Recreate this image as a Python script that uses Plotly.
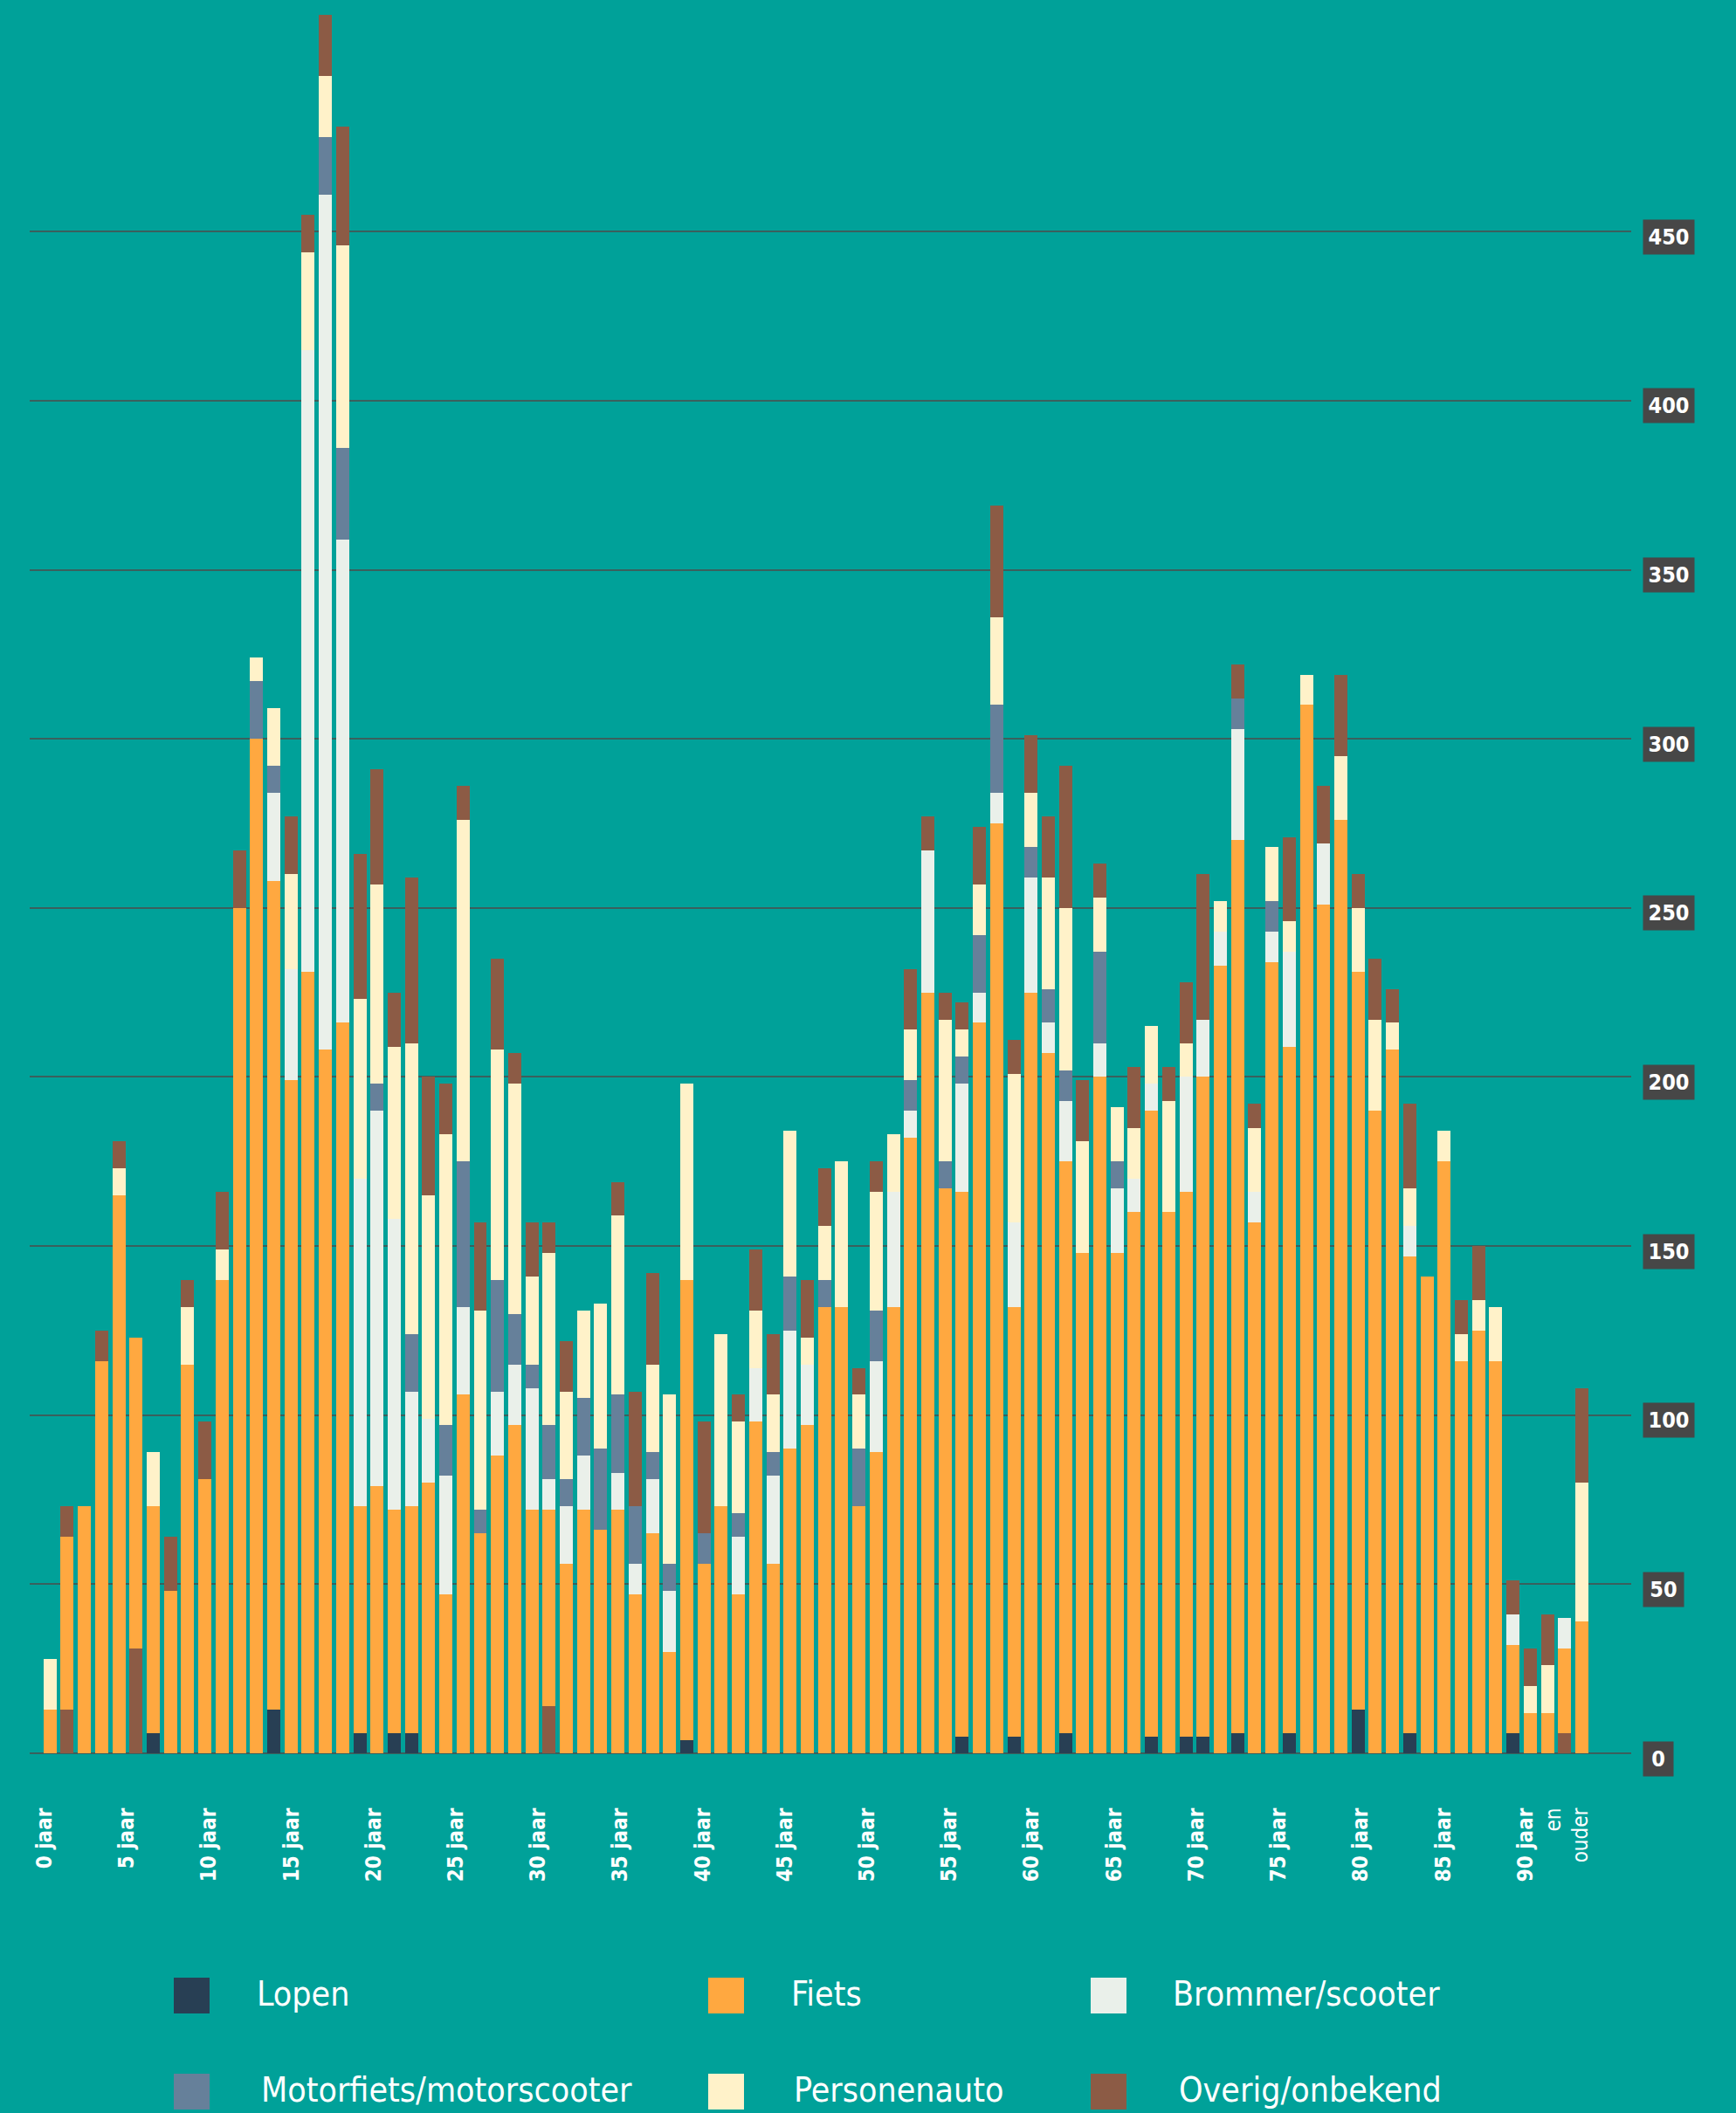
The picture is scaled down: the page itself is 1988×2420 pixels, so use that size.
import plotly.graph_objects as go

# ---------------- data ----------------
ages = list(range(90))

lopen = [0,0,0,0,0,0,6,0,0,0, 0,0,0,13,0,0,0,0,6,0,
         6,6,0,0,0,0,0,0,0,0, 0,0,0,0,0,0,0,4,0,0,
         0,0,0,0,0,0,0,0,0,0, 0,0,0,5,0,0,5,0,0,6,
         0,0,0,0,5,0,5,5,0,6, 0,0,6,0,0,0,13,0,0,6,
         0,0,0,0,0,6,0,0,0,0]
overig_onder = [0,13,0,0,0,31,0,0,0,0, 0,0,0,0,0,0,0,0,0,0,
                0,0,0,0,0,0,0,0,0,14, 0,0,0,0,0,0,0,0,0,0,
                0,0,0,0,0,0,0,0,0,0, 0,0,0,0,0,0,0,0,0,0,
                0,0,0,0,0,0,0,0,0,0, 0,0,0,0,0,0,0,0,0,0,
                0,0,0,0,0,0,0,0,6,0]
fiets = [13,51,73,116,165,92,67,48,115,81, 140,250,300,245,199,231,208,216,67,79,
         66,67,80,47,106,65,88,97,72,58, 56,72,66,72,47,65,30,136,56,73,
         47,98,56,90,97,132,132,73,89,132, 182,225,167,161,216,275,127,225,207,169,
         148,200,148,160,185,160,161,195,233,264, 157,234,203,310,251,276,218,190,208,141,
         141,175,116,125,116,26,12,12,25,39]
brommer = [0,0,0,0,0,0,0,0,0,0, 0,0,0,26,33,184,253,143,97,111,
           86,34,19,35,26,0,19,18,36,9, 17,16,0,11,9,16,18,0,0,0,
           17,16,26,35,18,0,0,0,27,34, 8,42,0,32,9,9,25,34,9,18,
           0,10,19,10,8,0,34,17,10,33, 9,9,28,0,18,0,0,0,0,9,
           0,0,0,0,0,9,0,0,9,0]
motorfiets = [0,0,0,0,0,0,0,0,0,0, 0,0,17,8,0,0,17,27,0,8,
              0,17,0,15,43,7,33,15,7,16, 8,17,24,23,17,8,8,0,9,0,
              7,0,7,16,0,8,0,17,15,0, 9,0,8,8,17,26,0,9,10,9,
              0,27,8,0,0,0,0,0,0,9, 0,9,0,0,0,0,0,0,0,0,
              0,0,0,0,0,0,0,0,0,0]
personenauto = [15,0,0,0,8,0,16,0,17,0, 9,0,7,17,28,29,18,60,53,59,
                51,86,66,86,101,59,68,68,26,51, 26,26,43,53,0,26,50,58,0,51,
                27,17,17,43,8,16,43,16,35,17, 15,0,42,8,15,26,44,16,33,48,
                33,16,16,15,17,33,10,0,9,0, 19,16,9,9,0,19,19,27,8,11,
                0,9,8,9,16,0,8,14,0,41]
overig = [0,9,0,9,8,0,0,16,8,17, 17,17,0,0,17,11,18,35,43,34,
          16,49,35,15,10,26,27,9,16,9, 15,0,0,10,34,27,0,0,33,0,
          8,18,18,0,17,17,0,8,9,0, 18,10,8,8,17,33,10,17,18,42,
          18,10,0,18,0,10,18,43,0,10, 7,0,25,0,17,24,10,18,10,25,
          0,0,10,16,0,10,11,15,0,28]

label_ages = list(range(0, 91, 5))
tick_texts = ["<b>%d jaar</b>" % a for a in label_ages] + ["en<br>ouder"]
y_ticks = list(range(0, 451, 50))

series = [
    ("Overig/onbekend", overig_onder, "#8C5B45", False),
    ("Lopen", lopen, "#283F54", True),
    ("Fiets", fiets, "#FFA840", True),
    ("Brommer/scooter", brommer, "#EAF0EA", True),
    ("Motorfiets/motorscooter", motorfiets, "#66809A", True),
    ("Personenauto", personenauto, "#FFF2C9", True),
    ("Overig/onbekend", overig, "#8C5B45", True),
]
legend_order = ["Lopen", "Fiets", "Brommer/scooter",
                "Motorfiets/motorscooter", "Personenauto", "Overig/onbekend"]

# ---------------- layout constants (pixels) ----------------
W, H = 1988, 2420
PL, PR = 34, 1868          # plot area left/right
PT, PB = 0, 2008           # plot area top/bottom
Y_MAX = 518.5
X_MIN, X_MAX = -1.18, 91.87
LABEL_SCALE, LABEL_OFFSET = 0.956, -0.31
EN_OUDER_POS = 88.17

BG = "#00A199"
GRID = "#3a605d"
FONT_NARROW = "Liberation Sans Narrow, DejaVu Sans Condensed, Arial Narrow, sans-serif"
FONT_TICK = "DejaVu Sans Condensed, DejaVu Sans, sans-serif"

def px_x(px):
    return (px - PL) / (PR - PL)

def px_y(py):
    return (PB - py) / (PB - PT)

fig = go.Figure()
for name, vals, color, _ in series:
    fig.add_trace(go.Bar(
        x=ages, y=vals, name=name, marker=dict(color=color, line=dict(width=0)),
        showlegend=False,
    ))

tickvals = [a * LABEL_SCALE + LABEL_OFFSET for a in label_ages] + [EN_OUDER_POS]

fig.update_layout(
    width=W, height=H,
    barmode="stack", bargap=0.24,
    paper_bgcolor=BG, plot_bgcolor=BG,
    margin=dict(l=PL, r=W - PR, t=PT, b=H - PB, pad=0),
    showlegend=False,
    xaxis=dict(
        range=[X_MIN, X_MAX], tickmode="array", tickvals=tickvals, ticktext=tick_texts,
        tickangle=-90, showgrid=False, zeroline=False, showline=False,
        ticks="outside", ticklen=52, tickcolor="rgba(0,0,0,0)",
        tickfont=dict(family=FONT_TICK, size=24, color="white"),
    ),
    yaxis=dict(
        range=[0, Y_MAX], tickmode="array", tickvals=y_ticks, showticklabels=False,
        showgrid=True, gridcolor=GRID, gridwidth=1.5,
        zeroline=True, zerolinecolor=GRID, zerolinewidth=1.5, showline=False,
    ),
)

# y tick badges
for v in y_ticks:
    txt = str(v)
    fig.add_annotation(
        xref="paper", yref="y", x=px_x(1881), y=v, xanchor="left", yanchor="middle",
        yshift=-6, text="<b>%s</b>" % txt, showarrow=False,
        font=dict(family=FONT_NARROW, size=25, color="white"),
        bgcolor="#474747", borderpad=5, width=12 + 12 * len(txt), align="center",
    )

# custom legend
legend_cols = [199, 811, 1249]
legend_text_x = [[292, 904, 1341], [297, 907, 1348]]
legend_rows = [2286, 2396]
colors = {n: c for n, _, c, show in series if show}
for i, name in enumerate(legend_order):
    col, row = i % 3, i // 3
    cx = legend_cols[col]
    cy = legend_rows[row]
    fig.add_shape(
        type="rect", xref="paper", yref="paper",
        x0=px_x(cx), x1=px_x(cx + 41), y0=px_y(cy - 21), y1=px_y(cy + 20),
        fillcolor=colors[name], line=dict(width=0),
    )
    fig.add_annotation(
        xref="paper", yref="paper", x=px_x(legend_text_x[row][col]), y=px_y(cy - 3),
        xanchor="left", yanchor="middle", text=name, showarrow=False,
        font=dict(family=FONT_NARROW, size=39, color="white"),
    )

fig.write_html(
    "out.html",
    config={"displayModeBar": False},
    post_script="document.body.style.margin='0px';"
                "document.body.style.overflow='hidden';"
                "document.body.style.background='%s';" % BG,
)
